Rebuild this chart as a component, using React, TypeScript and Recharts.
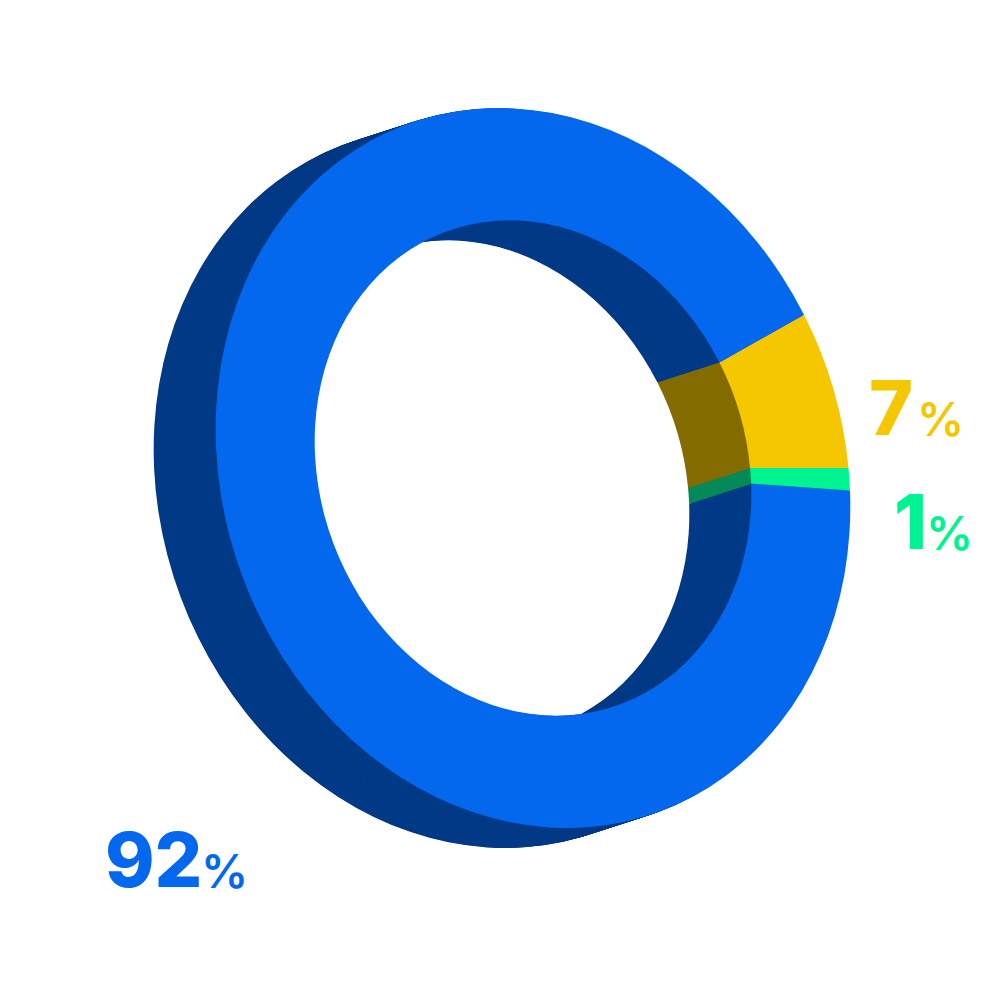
import React from "react";
import { PieChart, Pie, Sector } from "recharts";

const categories = ["Yellow", "Blue", "Green"];
const values = [7, 92, 1];
const faceColors = ["#F4C700", "#0368EE", "#00F391"];
const wallColors = ["#846C00", "#003A86", "#048A58"];

const labelText = ["7", "92", "1"];
const labelX = [869, 105, 894];
const percentX = [917, 201, 926];
const labelY = [435, 887, 549];

const rows = categories.map((name, i) => ({ name, value: values[i], face: faceColors[i], wall: wallColors[i] }));

const SIZE = 1000;
const R = 360;
const INNER = 0.688;
const CX = 533;
const CY = 468;
const SCALE_X = 315.5 / 360;
const SHEAR_X = 34 / 360;
const DEPTH_X = -62;
const DEPTH_Y = 20;
const DEPTH_STEPS = 62;

const depthLayers = Array.from({ length: DEPTH_STEPS }, (_, i) => DEPTH_STEPS - i);

function makeShape(step: number, colorKey: "face" | "wall") {
  const t = step / DEPTH_STEPS;
  const e = CX + DEPTH_X * t - SCALE_X * CX - SHEAR_X * CY;
  const f = DEPTH_Y * t;
  const matrix = `matrix(${SCALE_X} 0 ${SHEAR_X} 1 ${e} ${f})`;
  return (props: any) => (
    <g transform={matrix}>
      <Sector {...props} fill={props.payload?.[colorKey] ?? props[colorKey]} stroke="none" />
    </g>
  );
}

export default function App() {
  return (
    <div style={{ position: "absolute", left: 0, top: 0, width: SIZE, height: SIZE, background: "#fff" }}>
      <PieChart width={SIZE} height={SIZE} margin={{ top: 0, right: 0, bottom: 0, left: 0 }}>
        {depthLayers.map((step) => (
          <Pie
            key={step}
            data={rows}
            dataKey="value"
            cx={CX}
            cy={CY}
            outerRadius={R}
            innerRadius={R * INNER}
            startAngle={0}
            endAngle={360}
            paddingAngle={0}
            stroke="none"
            labelLine={false}
            isAnimationActive={false}
            shape={makeShape(step, "wall")}
          />
        ))}
        <Pie
          data={rows}
          dataKey="value"
          cx={CX}
          cy={CY}
          outerRadius={R}
          innerRadius={R * INNER}
          startAngle={0}
          endAngle={360}
          paddingAngle={0}
          stroke="none"
          labelLine={false}
          isAnimationActive={false}
          shape={makeShape(0, "face")}
        />
        {labelText.map((txt, i) => (
          <g key={txt} fill={faceColors[i]} fontFamily="Inter, sans-serif">
            <text x={labelX[i]} y={labelY[i]} fontSize={75} fontWeight={800}>{txt}</text>
            <text x={percentX[i]} y={labelY[i] + 1} fontSize={47} fontWeight={600}>%</text>
          </g>
        ))}
      </PieChart>
    </div>
  );
}
